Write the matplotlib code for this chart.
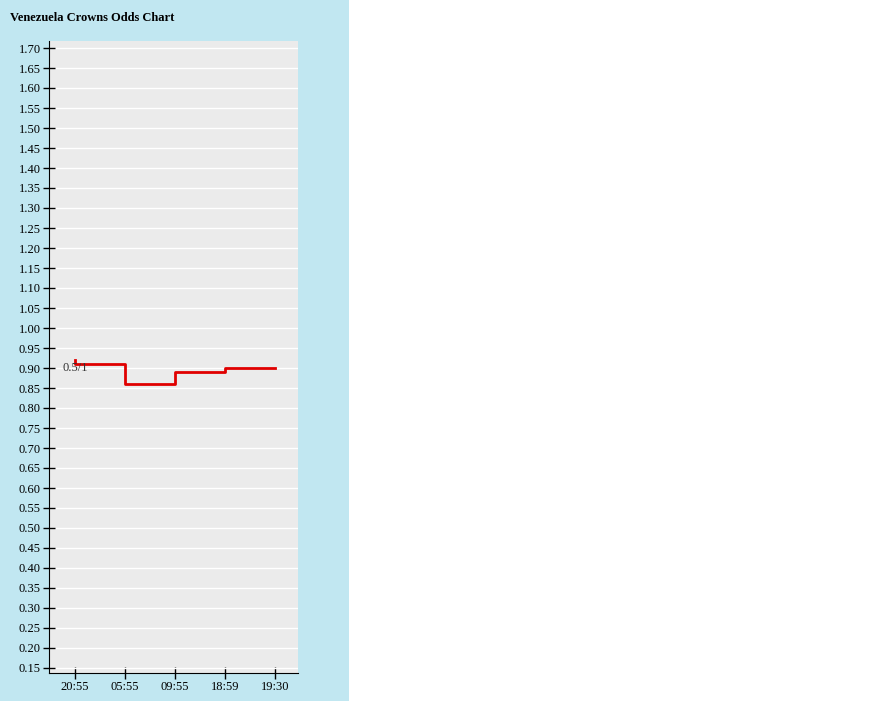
import matplotlib
matplotlib.use("Agg")
import matplotlib.pyplot as plt
from matplotlib.patches import Rectangle
import numpy as np

x_labels = ["20:55", "05:55", "09:55", "18:59", "19:30"]
x_pos = [0, 0, 1, 2, 3, 4]
odds = [0.92, 0.91, 0.86, 0.89, 0.90, 0.90]
y_ticks = np.round(np.arange(0.15, 1.7001, 0.05), 2)

plt.rcParams['font.family'] = ['Liberation Serif', 'DejaVu Serif']
fig = plt.figure(figsize=(8.82, 7.01), dpi=100)
fig.patches.append(Rectangle((0, 0), 349/882, 1, transform=fig.transFigure,
                             facecolor='#c1e7f1', edgecolor='none', zorder=-1))
fig.text(10/882, 1-18/701, "Venezuela Crowns Odds Chart", fontsize=9,
         fontweight='bold', va='center', ha='left')
ax = fig.add_axes([49/882, 28/701, 249/882, 632/701])
ax.set_facecolor('#ebebeb')
ax.step(x_pos, odds, where='post', color='#e00000', lw=2)
ax.text(0, 0.90, "0.5/1", fontsize=9, ha='center', va='center', color='#333333')
ax.set_xlim(-0.52, 4.46)
ax.set_ylim(0.1375, 1.7175)
ax.set_yticks(y_ticks)
ax.set_yticklabels([f"{v:.2f}" for v in y_ticks], fontsize=9)
ax.set_xticks(range(len(x_labels)))
ax.set_xticklabels(x_labels, fontsize=9)
ax.grid(axis='y', color='white', lw=1)
ax.set_axisbelow(True)
for s in ['top', 'right']:
    ax.spines[s].set_visible(False)
ax.tick_params(direction='inout', length=8, width=1, pad=2)
fig.savefig("out.png", dpi=100)
